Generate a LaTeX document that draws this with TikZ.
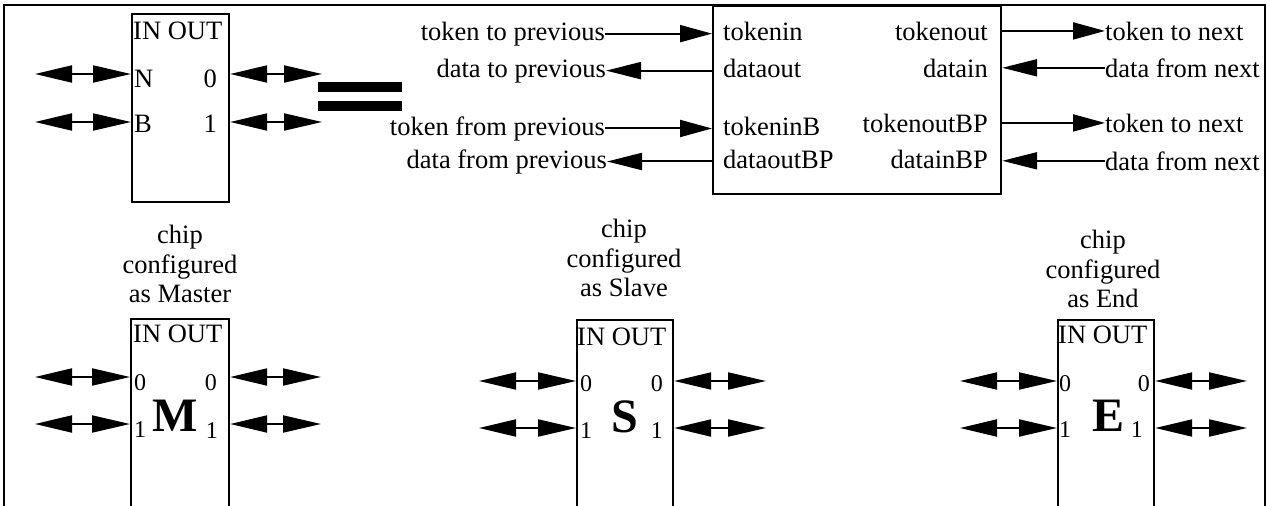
\documentclass[tikz,border=0pt]{standalone}
\usepackage{fontspec}
\setmainfont{Liberation Serif}
\usetikzlibrary{arrows.meta}
\tikzset{
  lbl/.style={font=\fontsize{26.5}{29.5}\selectfont, inner sep=0pt},
  digit/.style={font=\fontsize{24}{26}\selectfont, inner sep=0pt},
  bigletter/.style={font=\fontsize{48}{50}\selectfont\bfseries, inner sep=0pt, anchor=base},
  chipbox/.style={draw, line width=2.2pt, inner sep=0pt, anchor=north west},
  frameline/.style={line width=2.2pt},
  dbl/.style={line width=2pt, {Triangle[length=37pt,width=17pt]}-{Triangle[length=38pt,width=17pt]}},
  tokarrow/.style={line width=2pt, -{Triangle[length=32pt,width=17pt]}},
  datarrow/.style={line width=2pt, -{Triangle[length=35pt,width=17pt]}},
  eqbar/.style={fill=black},
}
\begin{document}
\begin{tikzpicture}[x=1pt,y=-1pt]
\clip (0,0) rectangle (1270,506);
% outer frame (open at the bottom)
\draw[frameline] (4,506) -- (4,5) -- (1265,5) -- (1265,506);

% ---------- top-left generic chip ----------
\node[chipbox, minimum width=97pt, minimum height=188pt] (tl) at (131,13) {};
\node[lbl, anchor=base west] (tlio) at (133,39) {IN OUT};
\node[lbl, anchor=base west] (tlN) at (134,87) {N};
\node[lbl, anchor=base east] (tlO0) at (217,87) {0};
\node[lbl, anchor=base west] (tlB) at (134,132) {B};
\node[lbl, anchor=base east] (tlO1) at (217,132) {1};
\coordinate (tlNl) at (35,74);
\coordinate (tlBl) at (35,122);
\coordinate (tl0r) at (322,74);
\coordinate (tl1r) at (322,122);
\draw[dbl] (tlNl) -- (tlNl -| tl.west);
\draw[dbl] (tlBl) -- (tlBl -| tl.west);
\draw[dbl] (tl.east |- tl0r) -- (tl0r);
\draw[dbl] (tl.east |- tl1r) -- (tl1r);

% equals sign
\fill[eqbar] (318,82) rectangle (402,92);
\fill[eqbar] (318,101) rectangle (402,111);

% ---------- detailed block ----------
\node[chipbox, minimum width=288pt, minimum height=188pt] (bb) at (712,5) {};
\node[lbl, anchor=base west] (pin1) at (723,40) {tokenin};
\node[lbl, anchor=base west] (pin2) at (723,77) {dataout};
\node[lbl, anchor=base west] (pin3) at (723,135) {tokeninB};
\node[lbl, anchor=base west] (pin4) at (723,168) {dataoutBP};
\node[lbl, anchor=base east] (pout1) at (988,40) {tokenout};
\node[lbl, anchor=base east] (pout2) at (988,77) {datain};
\node[lbl, anchor=base east] (pout3) at (988,132) {tokenoutBP};
\node[lbl, anchor=base east] (pout4) at (988,168) {datainBP};

\node[lbl, anchor=base east] (ttp) at (605,40) {token to previous};
\node[lbl, anchor=base east] (dtp) at (606,77) {data to previous};
\node[lbl, anchor=base east] (tfp) at (605,135) {token from previous};
\node[lbl, anchor=base east] (dfp) at (607,168) {data from previous};
\node[lbl, anchor=base west] (ttn1) at (1105,40) {token to next};
\node[lbl, anchor=base west] (dfn1) at (1105,77) {data from next};
\node[lbl, anchor=base west] (ttn2) at (1105,132) {token to next};
\node[lbl, anchor=base west] (dfn2) at (1105,170) {data from next};

\draw[tokarrow] (ttp.east) -- (ttp.east -| bb.west);
\draw[datarrow] (dtp.east -| bb.west) -- (dtp.east);
\draw[tokarrow] (tfp.east) -- (tfp.east -| bb.west);
\draw[datarrow] (dfp.east -| bb.west) -- (dfp.east);
\draw[tokarrow] (ttn1.west -| bb.east) -- (ttn1.west);
\draw[datarrow] (dfn1.west) -- (dfn1.west -| bb.east);
\draw[tokarrow] (ttn2.west -| bb.east) -- (ttn2.west);
\draw[datarrow] (dfn2.west) -- (dfn2.west -| bb.east);

% ---------- Master ----------
\node[lbl, align=center, anchor=north] (mt) at (180,225) {chip\\configured\\as Master};
\node[chipbox, minimum width=98pt, minimum height=230pt] (mc) at (130,318) {};
\node[lbl, anchor=base west] (mio) at (133,342) {IN OUT};
\node[digit, anchor=base west] (mi0) at (134,390) {0};
\node[digit, anchor=base west] (mi1) at (134,437) {1};
\node[digit, anchor=base east] (mo0) at (217,390) {0};
\node[digit, anchor=base east] (mo1) at (218,438) {1};
\node[bigletter] (mL) at (175,431) {M};
\coordinate (ml0) at (35,377);
\coordinate (ml1) at (35,424);
\coordinate (mr0) at (321,377);
\coordinate (mr1) at (321,424);
\draw[dbl] (ml0) -- (ml0 -| mc.west);
\draw[dbl] (ml1) -- (ml1 -| mc.west);
\draw[dbl] (mc.east |- mr0) -- (mr0);
\draw[dbl] (mc.east |- mr1) -- (mr1);

% ---------- Slave ----------
\node[lbl, align=center, anchor=north] (st) at (624,219) {chip\\configured\\as Slave};
\node[chipbox, minimum width=96pt, minimum height=230pt] (sc) at (576,319) {};
\node[lbl, anchor=base west] (sio) at (577,345) {IN OUT};
\node[digit, anchor=base west] (si0) at (580,391) {0};
\node[digit, anchor=base west] (si1) at (580,438) {1};
\node[digit, anchor=base east] (so0) at (663,391) {0};
\node[digit, anchor=base east] (so1) at (663,438) {1};
\node[bigletter] (sL) at (625,432) {S};
\coordinate (sl0) at (479,381);
\coordinate (sl1) at (479,428);
\coordinate (sr0) at (766,381);
\coordinate (sr1) at (766,428);
\draw[dbl] (sl0) -- (sl0 -| sc.west);
\draw[dbl] (sl1) -- (sl1 -| sc.west);
\draw[dbl] (sc.east |- sr0) -- (sr0);
\draw[dbl] (sc.east |- sr1) -- (sr1);

% ---------- End ----------
\node[lbl, align=center, anchor=north] (et) at (1103,230) {chip\\configured\\as End};
\node[chipbox, minimum width=96pt, minimum height=230pt] (ec) at (1057,319) {};
\node[lbl, anchor=base west] (eio) at (1058,343) {IN OUT};
\node[digit, anchor=base west] (ei0) at (1059,391) {0};
\node[digit, anchor=base west] (ei1) at (1059,437) {1};
\node[digit, anchor=base east] (eo0) at (1150,391) {0};
\node[digit, anchor=base east] (eo1) at (1143,437) {1};
\node[bigletter] (eL) at (1108,431) {E};
\coordinate (el0) at (960,381);
\coordinate (el1) at (960,428);
\coordinate (er0) at (1247,381);
\coordinate (er1) at (1247,428);
\draw[dbl] (el0) -- (el0 -| ec.west);
\draw[dbl] (el1) -- (el1 -| ec.west);
\draw[dbl] (ec.east |- er0) -- (er0);
\draw[dbl] (ec.east |- er1) -- (er1);
\end{tikzpicture}
\end{document}
